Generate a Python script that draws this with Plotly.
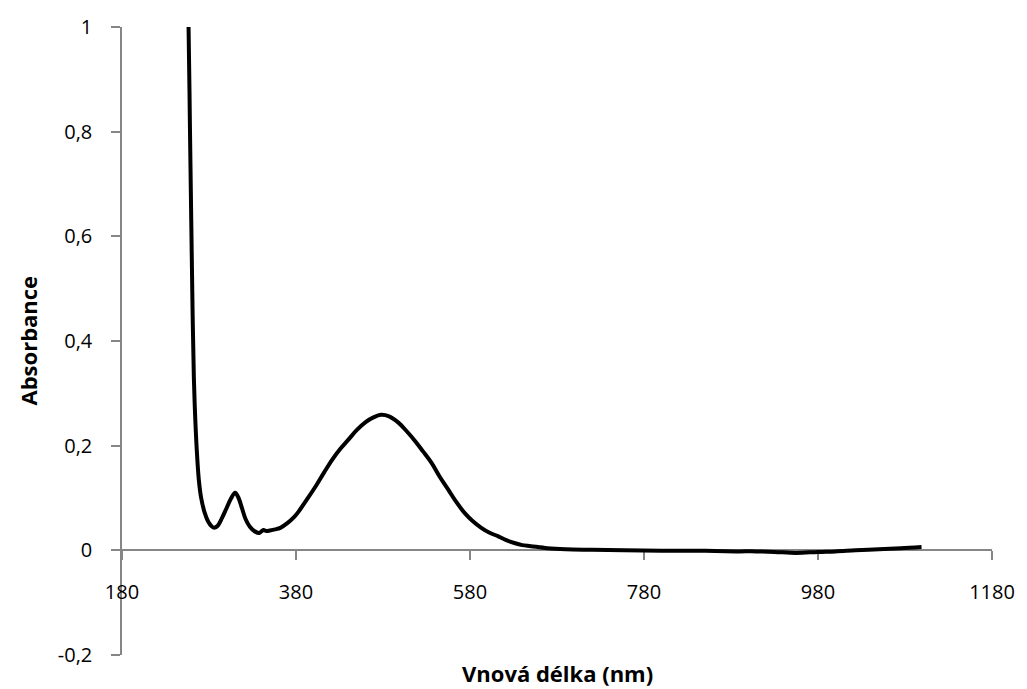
import plotly.graph_objects as go

# Absorption spectrum (wavelength in nm, absorbance)
wavelength = [250, 254, 256.5, 258, 259.6, 261, 262.6, 264, 266, 268.3, 271, 275, 279, 283, 286,
              290, 295, 300, 305, 310, 314, 318, 322, 327, 332, 337.7, 340, 342.6, 346, 350,
              356, 362, 370, 378, 383.4, 392, 402.5, 412, 421.5, 431, 441, 450, 460, 469,
              477.7, 487, 497.7, 507, 516.8, 526, 535.8, 545, 555, 564, 574, 583, 593, 602,
              612, 621, 631, 640, 650, 669, 690, 720, 757, 800, 850, 886, 909, 930, 955,
              980, 1000, 1023, 1050, 1075, 1099]
absorbance = [1.35, 1.12, 1.0, 0.82, 0.63, 0.47, 0.33, 0.26, 0.19, 0.135, 0.10, 0.072, 0.055,
              0.046, 0.043, 0.047, 0.062, 0.080, 0.098, 0.110, 0.100, 0.080, 0.060, 0.045, 0.037,
              0.033, 0.036, 0.039, 0.037, 0.038, 0.040, 0.043, 0.052, 0.064, 0.075, 0.096, 0.122,
              0.148, 0.173, 0.194, 0.213, 0.230, 0.245, 0.254, 0.259, 0.256, 0.244, 0.228, 0.209,
              0.189, 0.167, 0.141, 0.116, 0.093, 0.071, 0.056, 0.043, 0.034, 0.027, 0.020, 0.014,
              0.010, 0.008, 0.004, 0.002, 0.001, 0.000, -0.001, -0.001, -0.002, -0.002, -0.003,
              -0.005, -0.003, -0.002, 0.000, 0.002, 0.004, 0.0065]

x_ticks = [180, 380, 580, 780, 980, 1180]
x_tick_labels = ["180", "380", "580", "780", "980", "1180"]
y_ticks = [-0.2, 0, 0.2, 0.4, 0.6, 0.8, 1]
y_tick_labels = ["-0,2", "0", "0,2", "0,4", "0,6", "0,8", "1"]

axis_color = "#868686"
font_family = "Open Sans, sans-serif"

fig = go.Figure()
fig.add_trace(go.Scatter(
    x=wavelength, y=absorbance, mode="lines",
    line=dict(color="black", width=4, shape="spline", smoothing=1.0),
    showlegend=False, hoverinfo="skip",
))

fig.update_layout(
    width=1027, height=689, autosize=False,
    margin=dict(l=122, r=30, t=27, b=34),
    paper_bgcolor="white", plot_bgcolor="white",
    font=dict(family=font_family, size=20, color="black"),
    xaxis=dict(
        range=[180, 1180], tickvals=x_ticks, ticktext=x_tick_labels,
        anchor="free", position=1 / 6, layer="below traces",
        showline=True, linecolor=axis_color, linewidth=1.5,
        ticks="outside", ticklen=9, tickcolor=axis_color, tickwidth=1.5,
        ticklabelstandoff=15,
        showgrid=False, zeroline=False,
    ),
    yaxis=dict(
        range=[-0.2, 1], tickvals=y_ticks, ticktext=y_tick_labels,
        domain=[0, 1], layer="below traces",
        showline=True, linecolor=axis_color, linewidth=1.5,
        ticks="outside", ticklen=9, tickcolor=axis_color, tickwidth=1.5,
        ticklabelstandoff=15,
        showgrid=False, zeroline=False,
    ),
    annotations=[
        dict(text="<b>Vnová délka (nm)</b>", xref="paper", yref="paper",
             x=0.5, y=-0.0287, xanchor="center", yanchor="middle",
             showarrow=False, font=dict(family=font_family, size=22)),
        dict(text="<b>Absorbance</b>", xref="paper", yref="paper",
             x=-0.1086, y=0.5, xanchor="center", yanchor="middle", textangle=-90,
             showarrow=False, font=dict(family=font_family, size=22)),
    ],
)

fig.write_html("out.html")
